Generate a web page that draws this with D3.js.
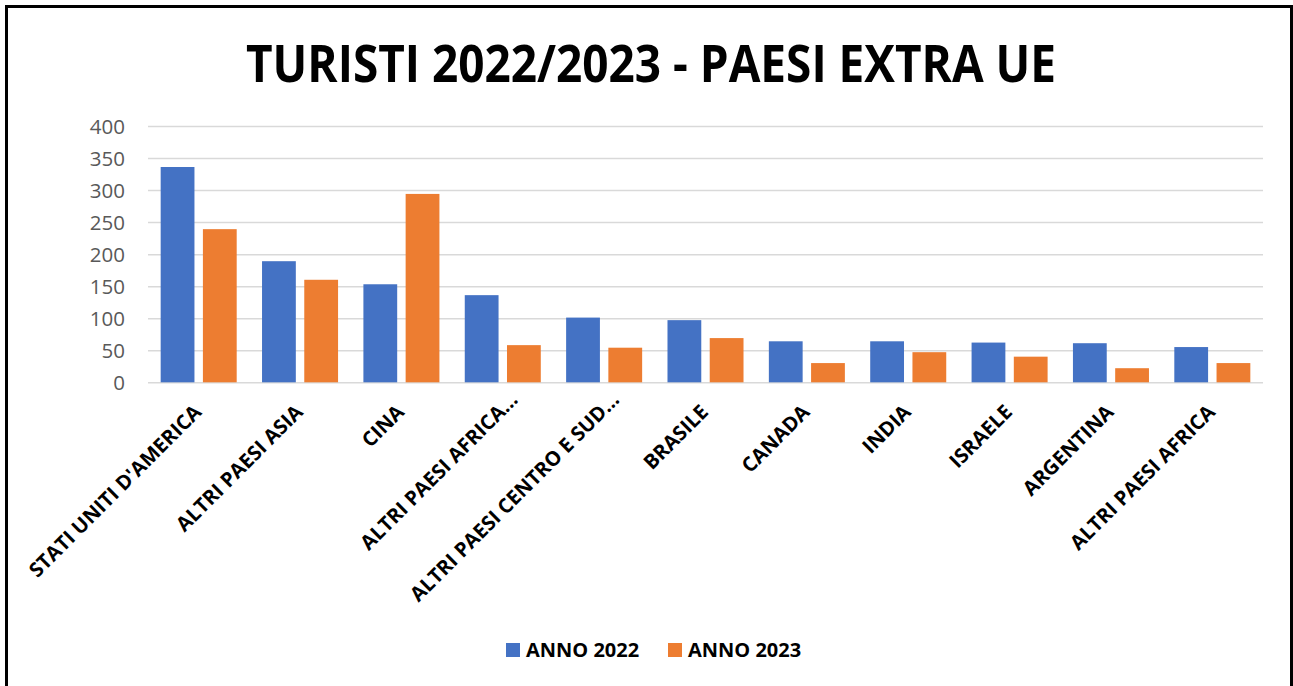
<!DOCTYPE html>
<html>
<head>
<meta charset="utf-8">
<script src="https://cdn.jsdelivr.net/npm/d3@7"></script>
<style>
  html, body { margin: 0; padding: 0; background: #fff; }
  svg { display: block; }
</style>
</head>
<body>
<svg id="chart" width="1293" height="686"></svg>
<script>
// Tourists from non-EU countries, 2022 vs 2023
const categories = [
  "STATI UNITI D'AMERICA", "ALTRI PAESI ASIA", "CINA", "ALTRI PAESI AFRICA…",
  "ALTRI PAESI CENTRO E SUD…", "BRASILE", "CANADA", "INDIA", "ISRAELE",
  "ARGENTINA", "ALTRI PAESI AFRICA"
];
const anno2022 = [336, 189, 153, 136, 101, 97, 64, 64, 62, 61, 55];
const anno2023 = [239, 160, 294, 58, 54, 69, 30, 47, 40, 22, 30];
const seriesNames = ["ANNO 2022", "ANNO 2023"];
const seriesColors = ["#4472C4", "#ED7D31"];
const yTicks = [0, 50, 100, 150, 200, 250, 300, 350, 400];
const titleText = "TURISTI 2022/2023 - PAESI EXTRA UE";

const svg = d3.select("#chart");
const plot = { left: 148, right: 1263, top: 126, bottom: 382.3 };

// chart frame
svg.append("rect")
  .attr("x", 6.5).attr("y", 6.5)
  .attr("width", 1285).attr("height", 720)
  .attr("fill", "#fff").attr("stroke", "#000").attr("stroke-width", 3);

// title
svg.append("text")
  .attr("x", 651).attr("y", 82)
  .attr("text-anchor", "middle")
  .attr("font-family", "'Open Sans', sans-serif")
  .attr("font-weight", 700)
  .attr("font-size", 52)
  .attr("textLength", 810)
  .attr("lengthAdjust", "spacingAndGlyphs")
  .attr("fill", "#000")
  .text(titleText);

const x = d3.scaleBand().domain(categories).range([plot.left, plot.right]).padding(0);
const xs = d3.scaleBand().domain(seriesNames).range([0, x.bandwidth()])
  .paddingInner(0.2).paddingOuter(0.3);
const y = d3.scaleLinear().domain([0, 400]).range([plot.bottom, plot.top]);

// gridlines + value labels
const yAxis = d3.axisLeft(y).tickValues(yTicks).tickSize(-(plot.right - plot.left)).tickPadding(23);
const gy = svg.append("g").attr("transform", `translate(${plot.left},0)`).call(yAxis);
gy.select(".domain").remove();
gy.selectAll(".tick line").attr("stroke", "#d9d9d9").attr("stroke-width", 1.5);
gy.selectAll(".tick text")
  .attr("font-family", "'Open Sans', sans-serif")
  .attr("font-size", 20.5)
  .attr("fill", "#595959")
  .attr("dy", "0.36em");

// bars
const rows = categories.map((c, i) => ({ cat: c, vals: [anno2022[i], anno2023[i]] }));
const groups = svg.append("g").selectAll("g").data(rows).join("g")
  .attr("transform", d => `translate(${x(d.cat)},0)`);
groups.selectAll("rect")
  .data(d => d.vals.map((v, k) => ({ v, k })))
  .join("rect")
  .attr("x", d => xs(seriesNames[d.k]))
  .attr("width", xs.bandwidth())
  .attr("y", d => y(d.v))
  .attr("height", d => y(0) - y(d.v))
  .attr("fill", d => seriesColors[d.k]);

// category labels, rotated; a trailing ellipsis hangs past the tick
const xAxis = d3.axisBottom(x).tickSize(0).tickPadding(0);
const gx = svg.append("g").attr("transform", `translate(0,${plot.bottom})`).call(xAxis);
gx.select(".domain").remove();
gx.selectAll(".tick text")
  .attr("font-family", "'Open Sans', sans-serif")
  .attr("font-weight", 700)
  .attr("font-size", 20.2)
  .attr("fill", "#000")
  .attr("y", 0).attr("dy", 0)
  .attr("transform", "translate(4,31) rotate(-45)")
  .each(function(d) {
    const el = this;
    const main = d.endsWith("…") ? d.length - 1 : d.length;
    const len = el.getSubStringLength(0, main);
    d3.select(el).attr("text-anchor", "start").attr("x", -len);
  });

// legend
const legend = svg.append("g");
const legendX = [506, 668];
seriesNames.forEach((name, k) => {
  legend.append("rect")
    .attr("x", legendX[k]).attr("y", 643)
    .attr("width", 14).attr("height", 14)
    .attr("fill", seriesColors[k]);
  legend.append("text")
    .attr("x", legendX[k] + 20).attr("y", 657)
    .attr("font-family", "'Open Sans', sans-serif")
    .attr("font-weight", 700)
    .attr("font-size", 20)
    .attr("fill", "#000")
    .text(name);
});
</script>
</body>
</html>
